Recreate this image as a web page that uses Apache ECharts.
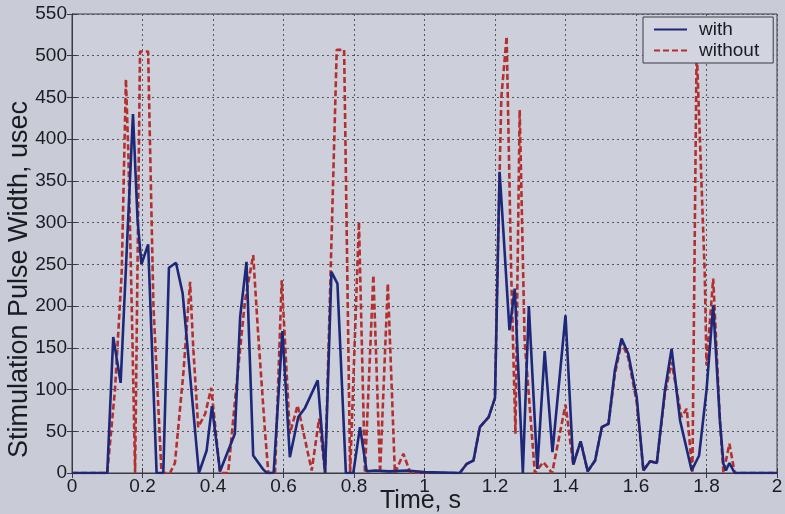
<!DOCTYPE html>
<html>
<head>
<meta charset="utf-8">
<script src="https://cdn.jsdelivr.net/npm/echarts@6/dist/echarts.min.js"></script>
<style>
  html, body { margin: 0; padding: 0; background: #c9cbd7; }
  #chart { width: 785px; height: 514px; }
</style>
</head>
<body>
<div id="chart"></div>
<script>
// Stimulation pulse width over time, with and without the controller
const seriesNames = ['with', 'without'];

const timeWith = [0, 0.1, 0.117, 0.138, 0.173, 0.18, 0.186, 0.197, 0.216, 0.24, 0.259, 0.275, 0.295, 0.314, 0.36,
  0.382, 0.397, 0.42, 0.462, 0.477, 0.495, 0.514, 0.543, 0.553, 0.572, 0.597, 0.618, 0.642, 0.661, 0.697, 0.718,
  0.736, 0.753, 0.777, 0.798, 0.817, 0.836, 0.86, 0.9, 0.95, 1.0, 1.1, 1.12, 1.139, 1.157, 1.182, 1.2, 1.213,
  1.223, 1.241, 1.256, 1.279, 1.296, 1.32, 1.341, 1.363, 1.4, 1.422, 1.443, 1.463, 1.484, 1.503, 1.522, 1.54,
  1.559, 1.578, 1.602, 1.621, 1.64, 1.659, 1.682, 1.701, 1.725, 1.758, 1.779, 1.8, 1.819, 1.838, 1.848, 1.855,
  1.865, 1.88, 2.0];
const widthWith = [0, 0, 163, 108, 430, 362, 303, 250, 274, 0, 0, 246, 252, 215, 0,
  27, 80, 2, 47, 187, 253, 21, 4, 0, 0, 170, 19, 67, 78, 111, 0,
  241, 227, 0, 0, 55, 2, 3, 2, 3, 1, 0, 11, 15, 55, 67, 90, 361,
  295, 171, 221, 0, 200, 5, 146, 25, 189, 10, 38, 2, 15, 55, 59, 123,
  161, 143, 91, 3, 14, 12, 99, 149, 63, 3, 21, 99, 201, 63, 11, 3,
  12, 0, 0];

const timeWithout = [0, 0.1, 0.122, 0.141, 0.153, 0.16, 0.17, 0.179, 0.193, 0.216, 0.221, 0.231, 0.254, 0.278,
  0.292, 0.316, 0.335, 0.344, 0.358, 0.378, 0.395, 0.42, 0.443, 0.467, 0.491, 0.514, 0.528, 0.548, 0.557, 0.576,
  0.595, 0.618, 0.64, 0.68, 0.701, 0.718, 0.751, 0.772, 0.789, 0.814, 0.831, 0.855, 0.874, 0.896, 0.916, 0.94,
  0.96, 1.1, 1.12, 1.139, 1.157, 1.182, 1.2, 1.207, 1.218, 1.233, 1.246, 1.258, 1.27, 1.284, 1.313, 1.337, 1.362,
  1.4, 1.422, 1.443, 1.463, 1.484, 1.503, 1.522, 1.54, 1.559, 1.578, 1.602, 1.621, 1.64, 1.659, 1.682, 1.701,
  1.729, 1.744, 1.76, 1.772, 1.795, 1.8, 1.819, 1.838, 1.848, 1.865, 1.88, 2.0];
const widthWithout = [0, 0, 100, 240, 472, 380, 190, 0, 505, 505, 400, 200, 0, 0,
  12, 120, 229, 150, 55, 71, 102, 0, 0, 107, 207, 261, 167, 47, 0, 0,
  231, 47, 81, 3, 65, 0, 507, 507, 0, 301, 0, 237, 0, 227, 0, 23,
  0, 0, 11, 15, 55, 67, 90, 247, 450, 523, 239, 47, 435, 159, 0, 13, 0,
  82, 10, 38, 2, 15, 55, 59, 118, 157, 138, 85, 3, 14, 12, 95, 133,
  67, 77, 0, 510, 239, 129, 233, 63, 0, 35, 0, 0];

const xTicks = { min: 0, max: 2, step: 0.2 };
const yTicks = { min: 0, max: 550, step: 50 };

const toPairs = (ts, vs) => ts.map((t, i) => [t, vs[i]]);

const font = 'Liberation Sans, Arial, sans-serif';
const textColor = '#1b1b22';
const frameColor = '#3a3a44';
const gridLine = { show: true, lineStyle: { color: '#55565e', type: [2, 3], width: 1 } };
const frameLine = { show: true, lineStyle: { color: frameColor, width: 1 } };
const innerTicks = { show: true, inside: true, length: 5, lineStyle: { color: frameColor } };

const chart = echarts.init(document.getElementById('chart'), null, { renderer: 'canvas' });
chart.setOption({
  backgroundColor: '#c9cbd7',
  animation: false,
  grid: {
    left: 72, right: 8, top: 14, bottom: 41,
    outerBoundsMode: 'none', containLabel: false,
    show: true, backgroundColor: '#cdcfdb', borderColor: frameColor, borderWidth: 1
  },
  legend: {
    data: seriesNames,
    orient: 'vertical',
    left: 643, top: 17,
    padding: [3, 14, 3, 10],
    itemGap: 2,
    itemWidth: 33, itemHeight: 18,
    itemStyle: { opacity: 0 },
    backgroundColor: '#d2d4df',
    borderColor: frameColor, borderWidth: 1, borderRadius: 0,
    textStyle: { fontFamily: font, fontSize: 19, color: textColor, padding: [0, 0, 0, 7] }
  },
  xAxis: [{
    type: 'value', min: xTicks.min, max: xTicks.max, interval: xTicks.step,
    name: 'Time, s', nameLocation: 'middle', nameGap: 16, nameMoveOverlap: false,
    nameTextStyle: { fontFamily: font, fontSize: 25, color: textColor, padding: [0, 8, 0, 0] },
    axisLine: frameLine,
    axisTick: innerTicks,
    axisLabel: { fontFamily: font, fontSize: 19, color: textColor, margin: 4,
      formatter: v => String(parseFloat(v.toFixed(1))) },
    splitLine: gridLine
  }, {
    type: 'value', position: 'top', min: xTicks.min, max: xTicks.max, interval: xTicks.step,
    axisLine: frameLine, axisTick: innerTicks,
    axisLabel: { show: false }, splitLine: { show: false }
  }],
  yAxis: [{
    type: 'value', min: yTicks.min, max: yTicks.max, interval: yTicks.step,
    name: 'Stimulation Pulse Width, usec', nameLocation: 'middle', nameGap: 39, nameRotate: 90,
    nameMoveOverlap: false,
    nameTextStyle: { fontFamily: font, fontSize: 27, color: textColor, padding: [0, 72, 0, 0] },
    axisLine: frameLine, axisTick: innerTicks,
    axisLabel: { fontFamily: font, fontSize: 19, color: textColor, margin: 5 },
    splitLine: gridLine
  }, {
    type: 'value', position: 'right', min: yTicks.min, max: yTicks.max, interval: yTicks.step,
    axisLine: frameLine, axisTick: innerTicks,
    axisLabel: { show: false }, splitLine: { show: false }
  }],
  series: [{
    name: seriesNames[0], type: 'line', symbol: 'none', z: 3,
    data: toPairs(timeWith, widthWith),
    lineStyle: { color: '#1d2878', width: 2.6 },
    itemStyle: { color: '#1d2878' }
  }, {
    name: seriesNames[1], type: 'line', symbol: 'none', z: 2,
    data: toPairs(timeWithout, widthWithout),
    lineStyle: { color: '#b3302f', width: 2.6, type: [6, 3] },
    itemStyle: { color: '#b3302f' }
  }]
});
</script>
</body>
</html>
